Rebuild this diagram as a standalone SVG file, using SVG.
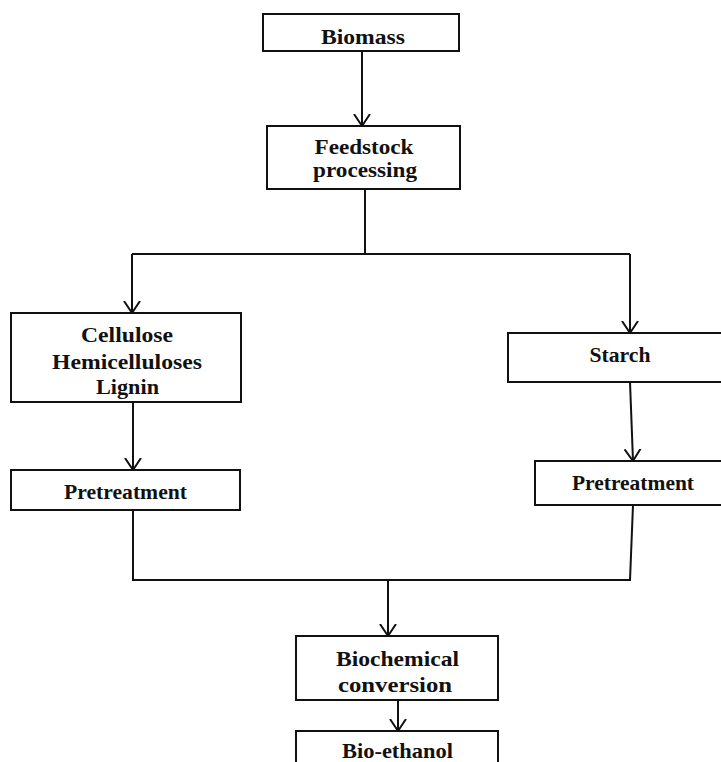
<svg xmlns="http://www.w3.org/2000/svg" width="721" height="762" viewBox="0 0 721 762">
  <style>
    .box { fill: #ffffff; stroke: #111111; stroke-width: 2; }
    .wire { fill: none; stroke: #111111; stroke-width: 2; }
    .lbl { font-family: "Liberation Serif", "Times New Roman", serif; font-weight: bold; font-size: 21px; fill: #111111; text-anchor: middle; }
  </style>
  <defs>
    <marker id="vhead" markerUnits="userSpaceOnUse" markerWidth="14" markerHeight="18" viewBox="0 0 14 18" refX="12" refY="9" orient="auto">
      <path d="M0,1 L12,9 L0,17" fill="none" stroke="#111111" stroke-width="2"/>
    </marker>
  </defs>
  <rect width="721" height="762" fill="#ffffff"/>

  <g id="connectors">
    <path class="wire" d="M362,51 L362,126" marker-end="url(#vhead)"/>
    <path class="wire" d="M365,189 L365,254"/>
    <path class="wire" d="M132,254 L630,254"/>
    <path class="wire" d="M132,254 L132,313" marker-end="url(#vhead)"/>
    <path class="wire" d="M630,254 L630,333" marker-end="url(#vhead)"/>
    <path class="wire" d="M133,402 L133,470" marker-end="url(#vhead)"/>
    <path class="wire" d="M630,382 L633,461" marker-end="url(#vhead)"/>
    <path class="wire" d="M133,510 L133,580 L630,580 L633,505"/>
    <path class="wire" d="M388,580 L388,636" marker-end="url(#vhead)"/>
    <path class="wire" d="M398,700 L398,731" marker-end="url(#vhead)"/>
  </g>

  <g id="biomass">
    <rect class="box" x="263" y="14" width="196" height="37"/>
    <text class="lbl" x="363" y="44" textLength="84" lengthAdjust="spacingAndGlyphs">Biomass</text>
  </g>

  <g id="feedstock">
    <rect class="box" x="267" y="126" width="193" height="63"/>
    <text class="lbl" x="364" y="153.5" textLength="99" lengthAdjust="spacingAndGlyphs">Feedstock</text>
    <text class="lbl" x="365" y="177" textLength="104" lengthAdjust="spacingAndGlyphs">processing</text>
  </g>

  <g id="lignocellulose">
    <rect class="box" x="11" y="313" width="230" height="89"/>
    <text class="lbl" x="127" y="342" textLength="92" lengthAdjust="spacingAndGlyphs">Cellulose</text>
    <text class="lbl" x="127" y="369" textLength="150" lengthAdjust="spacingAndGlyphs">Hemicelluloses</text>
    <text class="lbl" x="127.5" y="394" textLength="63" lengthAdjust="spacingAndGlyphs">Lignin</text>
  </g>

  <g id="starch">
    <rect class="box" x="508" y="333" width="220" height="49"/>
    <text class="lbl" x="620" y="362" textLength="61" lengthAdjust="spacingAndGlyphs">Starch</text>
  </g>

  <g id="pretreatment-left">
    <rect class="box" x="11" y="470" width="229" height="40"/>
    <text class="lbl" x="125.5" y="499" textLength="123" lengthAdjust="spacingAndGlyphs">Pretreatment</text>
  </g>

  <g id="pretreatment-right">
    <rect class="box" x="535" y="461" width="190" height="44"/>
    <text class="lbl" x="633" y="490" textLength="122" lengthAdjust="spacingAndGlyphs">Pretreatment</text>
  </g>

  <g id="biochemical">
    <rect class="box" x="296" y="636" width="202" height="64"/>
    <text class="lbl" x="397.5" y="666" textLength="123" lengthAdjust="spacingAndGlyphs">Biochemical</text>
    <text class="lbl" x="395" y="692" textLength="114" lengthAdjust="spacingAndGlyphs">conversion</text>
  </g>

  <g id="bioethanol">
    <rect class="box" x="296" y="731" width="202" height="45"/>
    <text class="lbl" x="397.5" y="758" textLength="111" lengthAdjust="spacingAndGlyphs">Bio-ethanol</text>
  </g>
</svg>
